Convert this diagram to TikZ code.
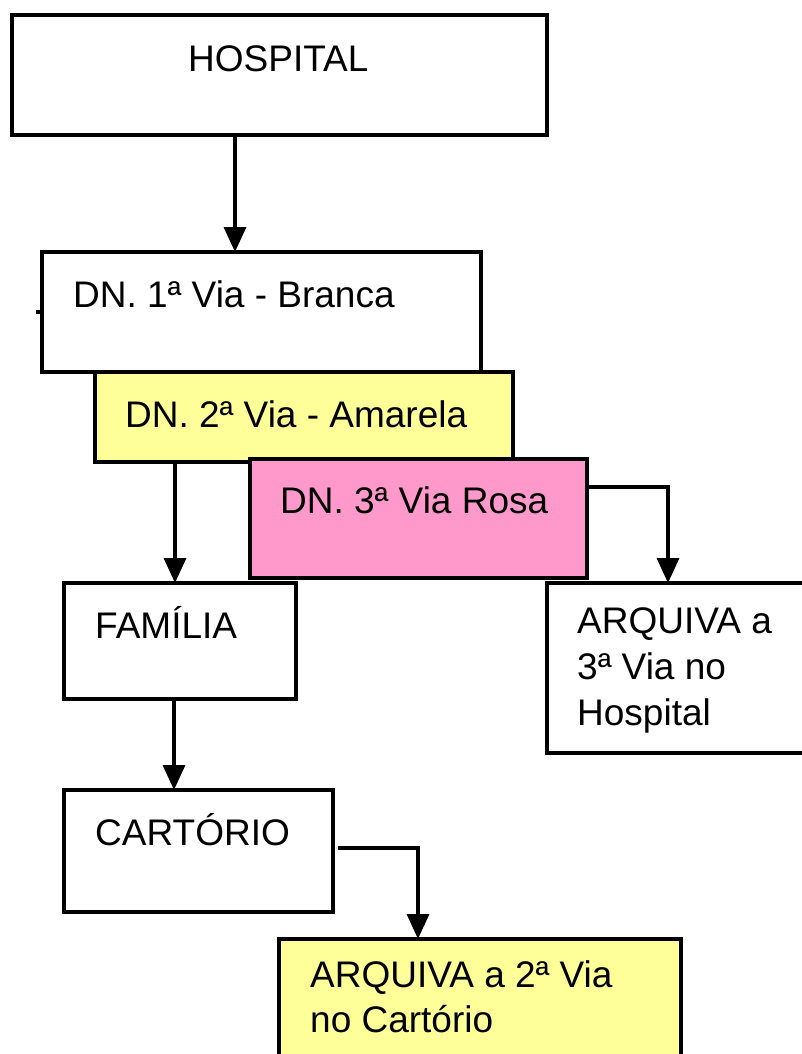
\documentclass[tikz,border=0pt]{standalone}
\usepackage{fontspec}
\setmainfont{Liberation Sans}
\usetikzlibrary{arrows.meta}
\definecolor{viayellow}{HTML}{FFFF99}
\definecolor{viapink}{HTML}{FF99CC}
\begin{document}
\begin{tikzpicture}[x=1pt,y=-1pt,
  box/.style={draw=black, line width=3.8pt, inner sep=0pt, outer sep=0pt},
  lbl/.style={anchor=base west, inner sep=0pt, font=\fontsize{37}{46}\selectfont},
  conn/.style={line width=3.4pt, -{Triangle[width=22pt,length=25pt]}},
  plain/.style={line width=3.4pt}]
\useasboundingbox (0,0) rectangle (802,1054);
\clip (0,0) rectangle (802,1054);
\fill[white] (0,0) rectangle (802,1054);

% boxes
\node[box, fill=white, minimum width=535pt, minimum height=120pt] (hosp) at (279.5,75) {};
\node[box, fill=white, minimum width=439pt, minimum height=120pt] (dn1) at (261.5,312) {};
\node[box, fill=viayellow, minimum width=418pt, minimum height=90pt] (dn2) at (304,417) {};
\node[box, fill=viapink, minimum width=337pt, minimum height=119pt] (dn3) at (418.5,518.5) {};
\node[box, fill=white, minimum width=232pt, minimum height=116pt] (fam) at (180,641) {};
\node[box, fill=white, minimum width=269pt, minimum height=122pt] (cart) at (198.5,851) {};
\node[box, fill=white, minimum width=283pt, minimum height=170pt] (arq3) at (688.5,668) {};
\node[box, fill=viayellow, minimum width=402pt, minimum height=141pt] (arq2) at (480,1009.5) {};

% texts
\node[lbl] (thosp) at (188,72) {HOSPITAL};
\node[lbl] (tdn1) at (73,307) {DN. 1ª Via - Branca};
\node[lbl] (tdn2) at (125,427) {DN. 2ª Via - Amarela};
\node[lbl] (tdn3) at (280,513) {DN. 3ª Via Rosa};
\node[lbl] (tfam) at (95,638) {FAMÍLIA};
\node[lbl] (tcart) at (95,845) {CARTÓRIO};
\node[lbl] (tarq3a) at (577,633) {ARQUIVA a};
\node[lbl] (tarq3b) at (577,679) {3ª Via no};
\node[lbl] (tarq3c) at (577,725) {Hospital};
\node[lbl] (tarq2a) at (310,987) {ARQUIVA a 2ª Via};
\node[lbl] (tarq2b) at (310,1032) {no Cartório};

% connectors
\coordinate (c1) at (235,0);
\draw[conn] (hosp.south -| c1) -- (dn1.north -| c1);
\coordinate (c2) at (175,0);
\draw[conn] (dn2.south -| c2) -- (fam.north -| c2);
\coordinate (c3) at (668,487);
\draw[conn] (dn3.east |- c3) -- (c3) -- (arq3.north -| c3);
\coordinate (c4) at (174,0);
\draw[conn] (fam.south -| c4) -- (cart.north -| c4);
\coordinate (c5s) at ([xshift=5pt]cart.east);
\coordinate (c5) at (418,848);
\draw[conn] (c5s |- c5) -- (c5) -- (arq2.north -| c5);
\draw[plain] (dn1.west) -- ++(-6,0);
\end{tikzpicture}
\end{document}
